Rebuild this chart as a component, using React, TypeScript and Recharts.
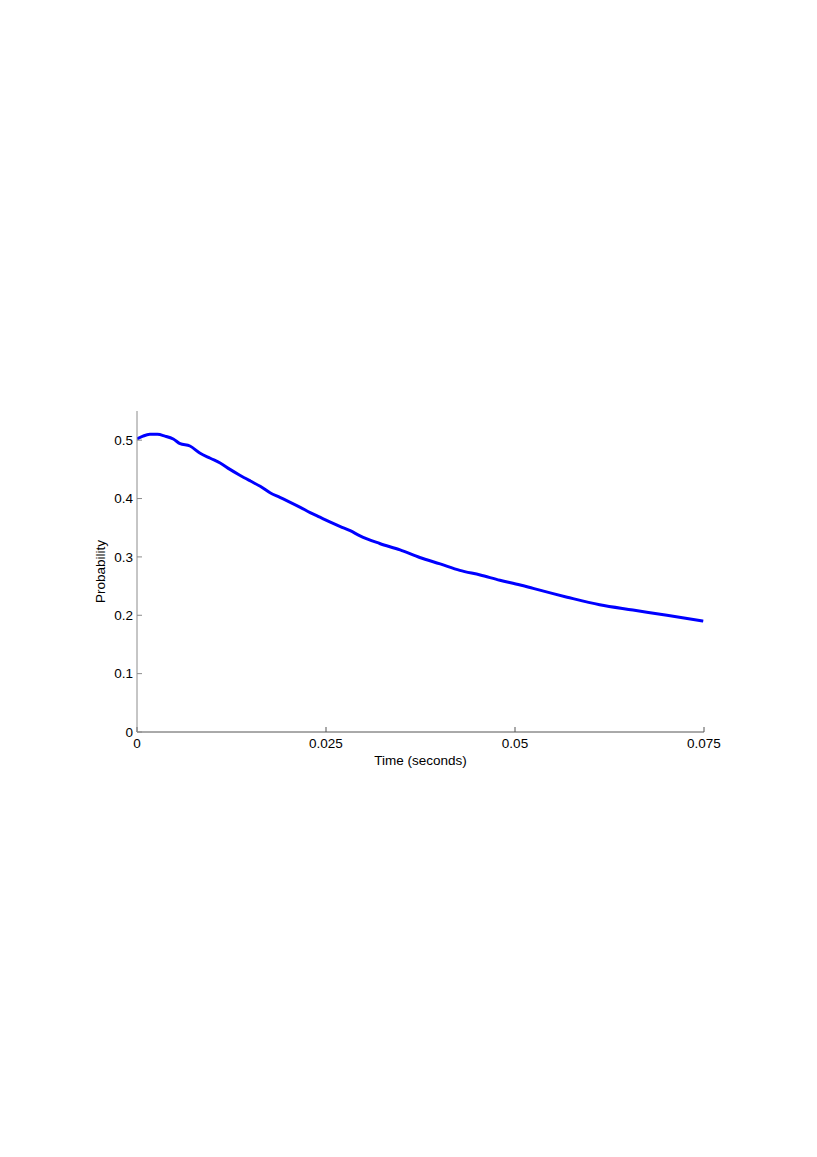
import React from "react";
import { LineChart, Line, XAxis, YAxis, Label } from "recharts";

// values
const timeValues = [
  0, 0.0008, 0.0017, 0.0027, 0.0037, 0.0048, 0.0057, 0.007, 0.0083, 0.0097, 0.011, 0.0123,
  0.0136, 0.015, 0.0163, 0.0176, 0.0189, 0.0202, 0.0216, 0.0229, 0.0242, 0.0255, 0.0269,
  0.0282, 0.0295, 0.0321, 0.0348, 0.0374, 0.0401, 0.0427, 0.0454, 0.048, 0.0507, 0.0524,
  0.0569, 0.0612, 0.0656, 0.0701, 0.0749,
];
const probValues = [
  0.502, 0.507, 0.51, 0.51, 0.507, 0.502, 0.494, 0.49, 0.478, 0.469, 0.461, 0.45,
  0.44, 0.43, 0.421, 0.41, 0.402, 0.394, 0.385, 0.376, 0.368, 0.36, 0.352,
  0.345, 0.336, 0.323, 0.312, 0.299, 0.288, 0.277, 0.269, 0.26, 0.252, 0.246,
  0.231, 0.218, 0.209, 0.2, 0.19,
];
const xTicks = [0, 0.025, 0.05, 0.075];
const yTicks = [0, 0.1, 0.2, 0.3, 0.4, 0.5];

const data = timeValues.map((t, i) => ({ t, p: probValues[i] }));

const font = { fontFamily: "'Liberation Sans', Arial, sans-serif", fontSize: 13.5, fill: "#000" };

export default function App() {
  return (
    <div style={{ position: "absolute", left: 0, top: 0, width: 817, height: 1157, background: "#fff" }}>
      <LineChart
        width={817}
        height={1157}
        data={data}
        margin={{ top: 411, right: 113, bottom: 369, left: 63 }}
      >
        <XAxis
          dataKey="t"
          type="number"
          domain={[0, 0.075]}
          ticks={xTicks}
          height={56}
          tickSize={-5}
          tickMargin={11}
          stroke="#555"
          tick={font}
          allowDataOverflow
        >
          <Label value="Time (seconds)" position="center" style={font} />
        </XAxis>
        <YAxis
          type="number"
          domain={[0, 0.55]}
          ticks={yTicks}
          width={74}
          tickSize={-5}
          tickMargin={9}
          stroke="#8c8c8c"
          tick={font}
          allowDataOverflow
        >
          <Label value="Probability" position="center" angle={-90} style={font} />
        </YAxis>
        <Line
          dataKey="p"
          type="monotone"
          stroke="#0000ff"
          strokeWidth={3}
          dot={false}
          isAnimationActive={false}
        />
      </LineChart>
    </div>
  );
}
